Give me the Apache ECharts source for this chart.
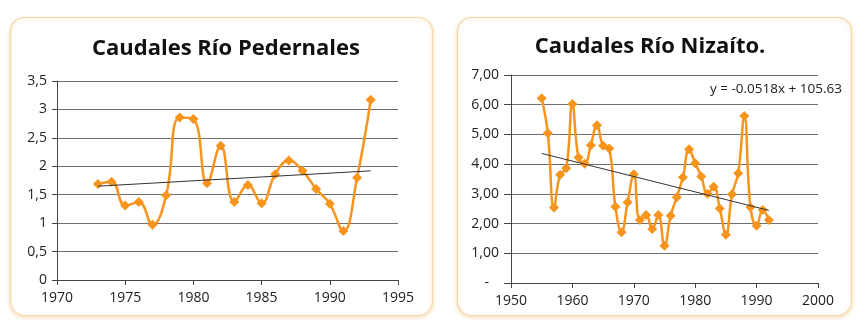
<!DOCTYPE html>
<html>
<head>
<meta charset="utf-8">
<script src="https://cdn.jsdelivr.net/npm/echarts@6/dist/echarts.min.js"></script>
<style>
html,body{margin:0;padding:0;background:#fff;}
#c{width:863px;height:332px;}
</style>
</head>
<body>
<div id="c"></div>
<script>
// ---- Left chart: Caudales Río Pedernales ----
const titleLeft = 'Caudales Río Pedernales';
const yearsLeft = [1973,1974,1975,1976,1977,1978,1979,1980,1981,1982,1983,1984,1985,1986,1987,1988,1989,1990,1991,1992,1993];
const flowLeft  = [1.69,1.73,1.31,1.37,0.97,1.49,2.86,2.83,1.70,2.36,1.37,1.67,1.35,1.86,2.10,1.92,1.60,1.34,0.86,1.80,3.17];
const trendLeftYears = [1973,1993];
const trendLeftValues = [1.65,1.92];
const yTicksLeft = ['0','0,5','1','1,5','2','2,5','3','3,5'];

// ---- Right chart: Caudales Río Nizaíto. ----
const titleRight = 'Caudales Río Nizaíto.';
const yearsRight = [1955,1956,1957,1958,1959,1960,1961,1962,1963,1964,1965,1966,1967,1968,1969,1970,1971,1972,1973,1974,1975,1976,1977,1978,1979,1980,1981,1982,1983,1984,1985,1986,1987,1988,1989,1990,1991,1992];
const flowRight  = [6.22,5.04,2.54,3.64,3.86,6.02,4.22,4.01,4.64,5.31,4.62,4.53,2.57,1.71,2.72,3.66,2.12,2.29,1.82,2.29,1.25,2.26,2.89,3.56,4.50,4.03,3.58,3.00,3.24,2.51,1.62,2.99,3.69,5.62,2.55,1.93,2.46,2.12];
const trendRightCoef = [-0.0518, 105.63]; // slope, intercept (from the chart's equation)
const trendRightYears = [1955,1992];
const trendRightLabel = 'y = -0.0518x + 105.63';
const yTicksRight = ['-','1,00','2,00','3,00','4,00','5,00','6,00','7,00'];

const ORANGE = '#f7941d';
const FONT = 'Open Sans';

const chart = echarts.init(document.getElementById('c'), null, {renderer:'canvas'});

function axisY(gridIndex, max, interval, labels, margin, tickLen){
  return {
    type:'value', gridIndex, min:0, max, interval,
    axisLine:{show:true, lineStyle:{color:'#444', width:1}},
    axisTick:{show:true, length:tickLen, lineStyle:{color:'#444'}},
    splitLine:{show:true, lineStyle:{color:'#6f6f6f', width:1}},
    axisLabel:{
      color:'#222', fontFamily:FONT, fontSize:14, margin,
      rich:{dash:{fontFamily:FONT, fontSize:14, color:'#222', padding:[0,10,0,0]}},
      formatter:(v)=>{ const i=Math.round(v/interval); const s=labels[i]!==undefined?labels[i]:''; return s==='-'?'{dash|-}':s; }
    }
  };
}
function axisX(gridIndex, min, max, interval){
  return {
    type:'value', gridIndex, min, max, interval,
    axisLine:{show:true, onZero:false, lineStyle:{color:'#444', width:1}},
    axisTick:{show:true, length:5, lineStyle:{color:'#444'}},
    splitLine:{show:false},
    axisLabel:{color:'#222', fontFamily:FONT, fontSize:14, margin:11, formatter:(v)=>String(v)}
  };
}

const trendRightValues = trendRightYears.map(x => +(trendRightCoef[0]*x + trendRightCoef[1]).toFixed(3));

chart.setOption({
  animation:false,
  backgroundColor:'#ffffff',
  graphic:[
    {type:'rect', shape:{x:10.5,y:17.5,width:422,height:298,r:14}, style:{fill:'#fff', stroke:'#f6d7a6', lineWidth:1.2, shadowBlur:4, shadowOffsetY:1.5, shadowColor:'rgba(240,190,110,0.45)'}, z:-10},
    {type:'rect', shape:{x:457.5,y:17.5,width:394,height:298,r:14}, style:{fill:'#fff', stroke:'#f6d7a6', lineWidth:1.2, shadowBlur:4, shadowOffsetY:1.5, shadowColor:'rgba(240,190,110,0.45)'}, z:-10}
  ],
  title:[
    {text:titleLeft, left:221, top:33, textAlign:'center', textStyle:{fontFamily:FONT, fontWeight:'bold', fontSize:22, color:'#111'}},
    {text:titleRight, left:645, top:31, textAlign:'center', textStyle:{fontFamily:FONT, fontWeight:'bold', fontSize:22, color:'#111'}},
    {text:trendRightLabel, left:705, top:77, textStyle:{fontFamily:FONT, fontWeight:'normal', fontSize:13.5, color:'#222'}}
  ],
  grid:[
    {left:57, right:465, top:81, bottom:52},
    {left:511, right:45, top:75, bottom:49}
  ],
  xAxis:[ axisX(0,1970,1995,5), axisX(1,1950,2000,10) ],
  yAxis:[ axisY(0,3.5,0.5,yTicksLeft,10,5), axisY(1,7,1,yTicksRight,12,7) ],
  series:[
    {type:'line', xAxisIndex:0, yAxisIndex:0, data:yearsLeft.map((y,i)=>[y,flowLeft[i]]),
     smooth:0.45, symbol:'diamond', symbolSize:10, lineStyle:{color:ORANGE, width:2.5}, itemStyle:{color:ORANGE}, z:3},
    {type:'line', xAxisIndex:0, yAxisIndex:0, data:trendLeftYears.map((y,i)=>[y,trendLeftValues[i]]),
     symbol:'none', lineStyle:{color:'#333', width:1}, z:4},
    {type:'line', xAxisIndex:1, yAxisIndex:1, data:yearsRight.map((y,i)=>[y,flowRight[i]]),
     smooth:0.45, symbol:'diamond', symbolSize:10, lineStyle:{color:ORANGE, width:2.5}, itemStyle:{color:ORANGE}, z:3},
    {type:'line', xAxisIndex:1, yAxisIndex:1, data:trendRightYears.map((y,i)=>[y,trendRightValues[i]]),
     symbol:'none', lineStyle:{color:'#333', width:1}, z:4}
  ]
});
</script>
</body>
</html>
